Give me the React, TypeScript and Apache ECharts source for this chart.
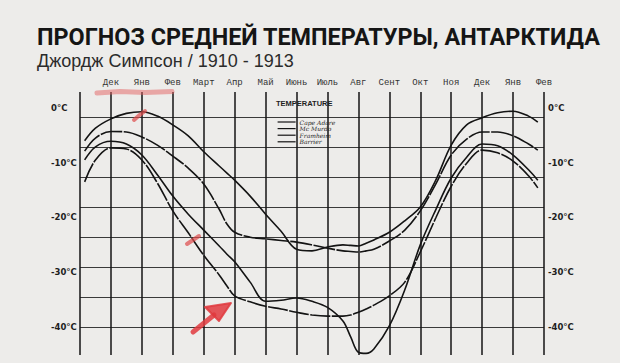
import React, { useEffect, useRef } from "react";
import * as echarts from "echarts";

const TITLE = "ПРОГНОЗ СРЕДНЕЙ ТЕМПЕРАТУРЫ, АНТАРКТИДА";
const SUBTITLE = "Джордж Симпсон / 1910 - 1913";
const LEGEND_TITLE = "TEMPERATURE";

// month labels at x = 1..15 (x = 0 is the left border, late November)
const months = ["Дек", "Янв", "Фев", "Март", "Апр", "Май", "Июнь", "Июль", "Авг", "Сент", "Окт", "Ноя", "Дек", "Янв", "Фев"];
const tempTicks = [0, -10, -20, -30, -40];
const stationNames = ["Cape Adare", "Mc Murdo", "Framheim", "Barrier"];

// position along the time axis (in months from the left border)
const monthPos = [0.15, 0.5, 1, 1.5, 2, 2.5, 3, 3.5, 4, 4.5, 4.75, 5, 5.5, 6, 6.5, 7, 7.5, 8, 8.5, 8.75, 9, 9.25, 9.5, 10, 10.5, 11, 11.5, 12, 12.5, 13, 13.5, 14, 14.5, 14.8];

// temperatures, °C
const capeAdare = [-6.0, -3.7, -2.0, -1.0, -0.7, -1.5, -3.1, -5.1, -8.0, -10.6, -11.9, -13.2, -16.1, -19.4, -22.5, -25.8, -26.1, -25.4, -25.0, -25.1, -25.2, -24.7, -24.1, -22.7, -20.6, -18.1, -13.2, -6.8, -3.1, -1.8, -0.9, -0.6, -1.5, -2.6];
const mcMurdo = [-7.9, -5.5, -4.3, -4.4, -5.3, -6.8, -8.8, -11.0, -13.9, -18.5, -21.2, -22.7, -23.6, -23.9, -24.2, -24.5, -25.0, -25.6, -26.1, -26.2, -26.3, -26.1, -25.8, -24.3, -22.3, -18.8, -13.9, -8.6, -5.7, -4.4, -4.4, -5.1, -6.6, -7.7];
const framheim = [-9.5, -7.1, -6.1, -6.6, -8.6, -12.2, -16.1, -19.4, -22.3, -25.2, -26.7, -28.1, -31.8, -35.3, -35.1, -34.7, -35.3, -36.4, -38.9, -41.8, -44.6, -44.8, -44.0, -39.8, -33.2, -25.0, -18.6, -12.8, -9.0, -6.6, -6.9, -8.6, -11.3, -13.2];
const barrier = [-13.5, -9.5, -7.3, -7.5, -9.5, -13.7, -18.8, -22.8, -26.9, -30.5, -32.5, -34.3, -35.4, -36.2, -36.7, -37.3, -37.8, -38.0, -38.0, -37.8, -37.3, -36.7, -36.0, -34.3, -31.8, -26.3, -20.1, -14.3, -10.1, -7.7, -8.2, -9.7, -12.4, -14.6];

const stationValues = [capeAdare, mcMurdo, framheim, barrier];
const stationDash: any[] = ["solid", [22, 1.5], "solid", [20, 1.5]];

const BG = "#edecea";
const Y_MIN = -45.1;
const Y_MAX = 2.9;
const RED = "rgba(224,58,62,0.85)";
const PINK = "rgba(228,96,96,0.5)";

const tempLabel = (v: number) => (v === 0 ? "0°C" : `${v}°C`);

const yLabelStyle = {
  customValues: tempTicks,
  formatter: tempLabel,
  fontFamily: "DejaVu Sans",
  fontWeight: "bold",
  fontSize: 8.5,
  color: "#1e1e1e",
};

function buildOption() {
  return {
    animation: false,
    backgroundColor: BG,
    title: [
      {
        text: TITLE,
        left: 37,
        top: 25,
        padding: 0,
        textStyle: { fontFamily: "Roboto", fontWeight: "bold", fontSize: 23.4, lineHeight: 24, color: "#151515" },
      },
      {
        text: SUBTITLE,
        left: 37,
        top: 51,
        padding: 0,
        textStyle: { fontFamily: "Liberation Sans", fontWeight: "normal", fontSize: 18, lineHeight: 19, color: "#2b2b2b" },
      },
    ],
    grid: [
      { left: 80, right: 76, top: 92, bottom: 8 },
      { left: 80, right: 76, top: 117, bottom: 36 },
    ],
    xAxis: [
      {
        type: "value",
        gridIndex: 0,
        position: "top",
        min: 0,
        max: 15,
        interval: 1,
        axisLine: { show: false },
        axisTick: { show: false },
        axisLabel: {
          margin: 5,
          fontFamily: "Liberation Mono",
          fontSize: 9,
          color: "#333",
          formatter: (v: number) => months[v - 1] ?? "",
        },
        splitLine: { show: true, lineStyle: { color: "#141414", width: 1.5 } },
      },
      { type: "value", gridIndex: 1, min: 0, max: 1, show: false },
    ],
    yAxis: [
      {
        type: "value",
        gridIndex: 0,
        position: "left",
        min: Y_MIN,
        max: Y_MAX,
        axisLine: { show: false },
        axisTick: { show: false },
        splitLine: { show: false },
        axisLabel: { ...yLabelStyle, align: "left", margin: 29 },
      },
      {
        type: "value",
        gridIndex: 0,
        position: "right",
        min: Y_MIN,
        max: Y_MAX,
        axisLine: { show: false },
        axisTick: { show: false },
        splitLine: { show: false },
        axisLabel: { ...yLabelStyle, margin: 4 },
      },
      {
        type: "value",
        gridIndex: 1,
        min: 0,
        max: 7,
        interval: 1,
        axisLine: { show: false },
        axisTick: { show: false },
        axisLabel: { show: false },
        splitLine: { show: true, lineStyle: { color: "#3a3a3a", width: 1 } },
      },
    ],
    legend: {
      orient: "vertical",
      left: 277,
      top: 119,
      padding: 0,
      itemWidth: 18,
      itemHeight: 6,
      itemGap: 0.6,
      selectedMode: false,
      itemStyle: { opacity: 0 },
      lineStyle: { width: 1.2 },
      textStyle: { fontFamily: "DejaVu Serif", fontStyle: "italic", fontSize: 6, color: "#222", padding: [0, 0, 0, -1] },
      data: stationNames,
    },
    series: stationNames.map((name, k) => ({
      name,
      type: "line",
      xAxisIndex: 0,
      yAxisIndex: 0,
      smooth: 0.35,
      symbol: "none",
      z: 5,
      lineStyle: { color: "#141414", width: 1.6, type: stationDash[k] },
      itemStyle: { color: "#141414" },
      data: monthPos.map((x, i) => [x, stationValues[k][i]]),
    })),
    graphic: [
      {
        type: "text",
        left: 276,
        top: 99,
        z: 20,
        style: { text: LEGEND_TITLE, font: "bold 7.5px 'Liberation Sans'", fill: "#1e1e1e" },
      },
      {
        type: "polyline",
        z: 20,
        shape: { points: [[97, 93], [120, 91.5], [145, 92.5], [172, 91.5]] },
        style: { stroke: PINK, lineWidth: 5, lineCap: "round", fill: null },
      },
      {
        type: "polyline",
        z: 20,
        shape: { points: [[134, 120], [139, 115.5], [145, 111]] },
        style: { stroke: "rgba(222,74,74,0.7)", lineWidth: 4, lineCap: "round", fill: null },
      },
      {
        type: "polyline",
        z: 20,
        shape: { points: [[187, 244], [193, 240], [199, 236]] },
        style: { stroke: "rgba(222,74,74,0.7)", lineWidth: 4, lineCap: "round", fill: null },
      },
      {
        type: "polyline",
        z: 20,
        shape: { points: [[193, 332], [214, 315]] },
        style: { stroke: RED, lineWidth: 5, lineCap: "round", fill: null },
      },
      {
        type: "polygon",
        z: 20,
        shape: { points: [[231, 303], [205, 307], [219, 321]] },
        style: { fill: RED, stroke: RED, lineWidth: 2, lineJoin: "round" },
      },
    ],
  };
}

export default function App() {
  const ref = useRef<HTMLDivElement>(null);
  useEffect(() => {
    if (!ref.current) return;
    const chart = echarts.init(ref.current, null, { renderer: "svg" });
    chart.setOption(buildOption() as any);
    return () => chart.dispose();
  }, []);
  return (
    <div
      ref={ref}
      style={{ position: "fixed", left: 0, top: 0, width: 620, height: 363, background: BG }}
    />
  );
}
